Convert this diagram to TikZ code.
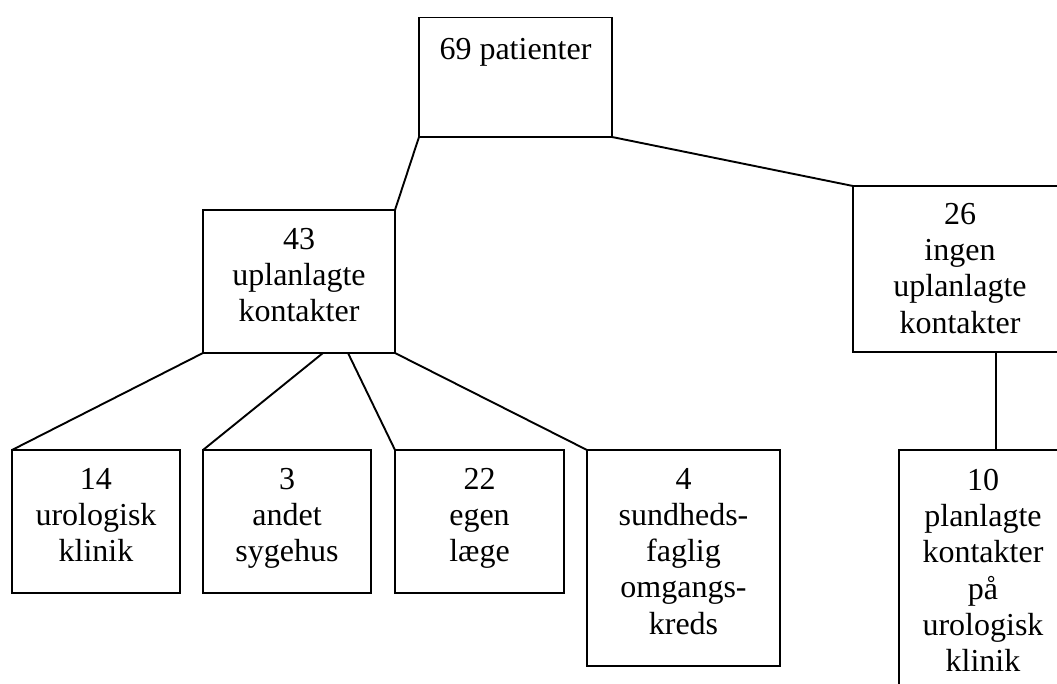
\documentclass[tikz,border=0pt]{standalone}
\usepackage{fontspec}
\setmainfont{Liberation Serif}
\tikzset{
  box/.style={draw=black, line width=1.9pt, outer sep=0pt, inner sep=0pt, rectangle},
  lbl/.style={inner sep=0pt, outer sep=0pt, align=center, anchor=north,
              font=\fontsize{32}{36.3}\selectfont},
  conn/.style={draw=black, line width=1.9pt, line cap=round}
}
\begin{document}
\begin{tikzpicture}[x=1pt,y=-1pt]
\useasboundingbox (0,0) rectangle (1057,684);
\fill[white] (0,0) rectangle (1057,684);
\clip (0,0) rectangle (1057,684);
% boxes (centre, size)
\node[box, minimum width=193pt, minimum height=119.5pt] (top) at (515.5,77.25) {};
\node[box, minimum width=192pt, minimum height=143pt] (b43) at (299,281.5) {};
\node[box, minimum width=214pt, minimum height=166pt] (b26) at (960,269) {};
\node[box, minimum width=168pt, minimum height=143pt] (b14) at (96,521.5) {};
\node[box, minimum width=168pt, minimum height=143pt] (b3) at (287,521.5) {};
\node[box, minimum width=169pt, minimum height=143pt] (b22) at (479.5,521.5) {};
\node[box, minimum width=193pt, minimum height=216pt] (b4) at (683.5,558) {};
\node[box, minimum width=168pt, minimum height=300pt] (b10) at (983,600) {};
% texts
\node[lbl] (t69) at (515.5,38) {69 patienter};
\node[lbl] (t43) at (299,228) {43\\uplanlagte\\kontakter};
\node[lbl] (t26) at (960,203) {26\\ingen\\uplanlagte\\kontakter};
\node[lbl] (t14) at (96,468) {14\\urologisk\\klinik};
\node[lbl] (t3) at (287,468) {3\\andet\\sygehus};
\node[lbl] (t22) at (479.5,468) {22\\egen\\læge};
\node[lbl] (t4) at (683.5,468) {4\\sundheds-\\faglig\\omgangs-\\kreds};
\node[lbl] (t10) at (983,469) {10\\planlagte\\kontakter\\på\\urologisk\\klinik};
% connectors
\draw[conn] (top.south west) -- (b43.north east);
\draw[conn] (top.south east) -- (b26.north west);
\draw[conn] (b43.south west) -- (b14.north west);
\draw[conn] ([xshift=120pt]b43.south west) -- (b3.north west);
\draw[conn] ([xshift=145pt]b43.south west) -- (b22.north west);
\draw[conn] (b43.south east) -- (b4.north west);
\draw[conn] ([xshift=143pt]b26.south west) -- ([xshift=97pt]b10.north west);
\end{tikzpicture}
\end{document}
